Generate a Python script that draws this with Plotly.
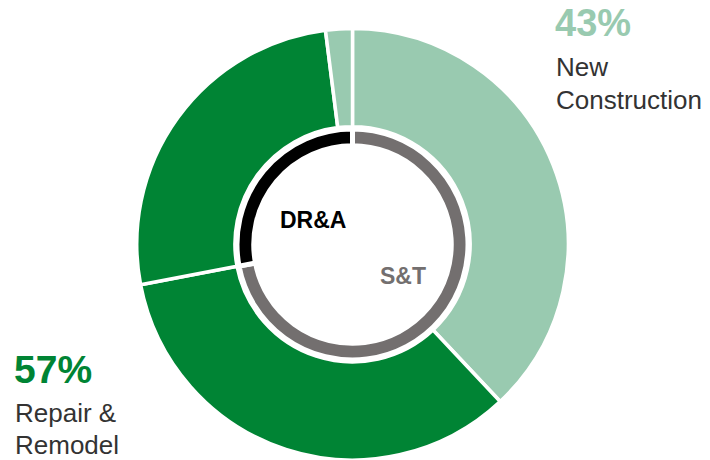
import plotly.graph_objects as go

# Outer ring: end market split within each segment (share of total, %)
outer_labels = ["S&T New Construction", "S&T Repair & Remodel",
                "DR&A Repair & Remodel", "DR&A New Construction"]
outer_values = [38, 34, 26, 2]
outer_colors = ["#99CAB0", "#008434", "#008434", "#99CAB0"]

# Inner ring: segment split (%)
inner_labels = ["S&T", "DR&A"]
inner_values = [72, 28]
inner_colors = ["#736F6F", "#000000"]

# Headline end-market shares
nc_share = "43%"
rr_share = "57%"

W, H = 710, 460
cx, cy = 352.5, 244.5  # centre in px from top-left


def dom(r):
    x0 = (cx - r) / W
    x1 = (cx + r) / W
    ybot = H - cy
    y0 = max(0.0, (ybot - r) / H)
    y1 = min(1.0, (ybot + r) / H)
    return dict(x=[x0, x1], y=[y0, y1])

fig = go.Figure()
fig.add_trace(go.Pie(
    labels=outer_labels, values=outer_values,
    marker=dict(colors=outer_colors, line=dict(color="white", width=3.5)),
    hole=0.545, sort=False, direction="clockwise", rotation=0,
    textinfo="none", hoverinfo="label+percent",
    domain=dom(216), showlegend=False,
))
fig.add_trace(go.Pie(
    labels=inner_labels, values=inner_values,
    marker=dict(colors=inner_colors, line=dict(color="white", width=5)),
    hole=0.855, sort=False, direction="clockwise", rotation=0,
    textinfo="none", hoverinfo="label+percent",
    domain=dom(115.5), showlegend=False,
))


def px(x, y):
    return x / W, 1 - y / H

annots = []
fam = "Liberation Sans, Arial, sans-serif"
def add(text, x, y, size, color, bold=False, yanchor="middle"):
    ax, ay = px(x, y)
    annots.append(dict(text=f"<b>{text}</b>" if bold else text, x=ax, y=ay,
                       xref="paper", yref="paper", xanchor="left", yanchor=yanchor,
                       showarrow=False, font=dict(family=fam, size=size, color=color)))

add(nc_share, 553, 0, 38, "#99CAB0", True, yanchor="top")
add("New", 554, 67, 26, "#333333")
add("Construction", 554, 100, 26, "#333333")
add(rr_share, 12, 369, 39, "#008434", True)
add("Repair &", 13, 413, 26, "#333333")
add("Remodel", 13, 445, 26, "#333333")
add("DR&A", 278, 220, 23, "#000000", True)
add("S&T", 378, 276, 23, "#736F6F", True)

fig.update_layout(width=W, height=H, margin=dict(l=0, r=0, t=0, b=0),
                  paper_bgcolor="white", plot_bgcolor="white",
                  annotations=annots)
fig.write_html("out.html", config={"displayModeBar": False},
               post_script="document.body.style.margin='0px';")
